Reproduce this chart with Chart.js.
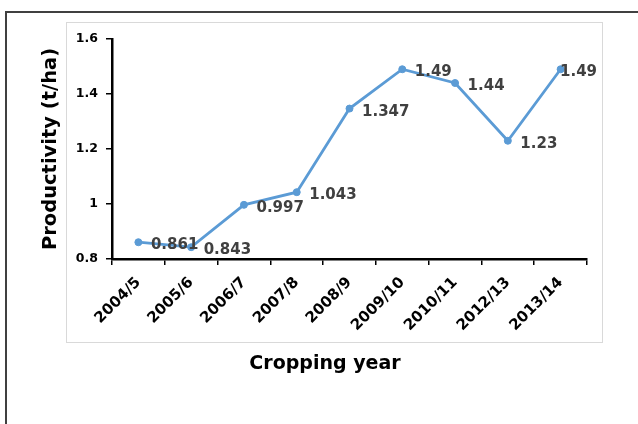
<!DOCTYPE html>
<html>
<head>
<meta charset="utf-8">
<script src="https://cdn.jsdelivr.net/npm/chart.js@4/dist/chart.umd.min.js"></script>
<style>
  html, body { margin: 0; padding: 0; width: 638px; height: 424px; overflow: hidden; background: #fff; }
  #outer { position: absolute; left: 5px; top: 11px; width: 700px; height: 500px; border: 2px solid #404040; box-sizing: border-box; }
  #inner { position: absolute; left: 66px; top: 22px; width: 537px; height: 321px; border: 1px solid #d9d9d9; box-sizing: border-box; }
  #c { position: absolute; left: 0; top: 0; }
</style>
</head>
<body>
<div id="outer"></div>
<div id="inner"></div>
<canvas id="c" width="638" height="424"></canvas>
<script>
// ---- data ----
const categories = ['2004/5', '2005/6', '2006/7', '2007/8', '2008/9', '2009/10', '2010/11', '2012/13', '2013/14'];
const productivity = [0.861, 0.843, 0.997, 1.043, 1.347, 1.49, 1.44, 1.23, 1.49];
const yTickLabels = ['0.8', '1', '1.2', '1.4', '1.6'];
const yAxisTitle = 'Productivity (t/ha)';
const xAxisTitle = 'Cropping year';

const FONT = 'DejaVu Sans';

const valueLabels = {
  id: 'valueLabels',
  afterDatasetsDraw(chart) {
    const ctx = chart.ctx;
    const meta = chart.getDatasetMeta(0);
    const area = chart.chartArea;
    const size = 15;
    ctx.save();
    ctx.font = 'bold ' + size + 'px "' + FONT + '"';
    ctx.fillStyle = '#404040';
    ctx.textAlign = 'left';
    ctx.textBaseline = 'alphabetic';
    meta.data.forEach((pt, i) => {
      const text = String(productivity[i]);
      const w = ctx.measureText(text).width;
      let x = pt.x + 12.5;
      if (x + w > area.right + 10) x = area.right + 10 - w;
      const y = pt.y + 1.5 + size * 0.729 / 2;
      ctx.fillText(text, x, y);
    });
    ctx.restore();
  }
};

new Chart(document.getElementById('c'), {
  type: 'line',
  data: {
    labels: categories,
    datasets: [{
      data: productivity,
      borderColor: '#5b9bd5',
      backgroundColor: '#5b9bd5',
      borderWidth: 2.8,
      pointRadius: 3.5,
      pointBorderWidth: 1,
      pointBorderColor: '#5b9bd5',
      pointBackgroundColor: '#5b9bd5',
      tension: 0,
      fill: false
    }]
  },
  options: {
    responsive: false,
    animation: false,
    devicePixelRatio: 1,
    layout: { padding: { left: 63, right: 51, top: 39, bottom: 0 } },
    plugins: {
      legend: { display: false },
      tooltip: { enabled: false },
      title: {
        display: true,
        position: 'bottom',
        text: xAxisTitle,
        color: '#000',
        font: { family: FONT, weight: 'bold', size: 19, lineHeight: 1.2 },
        padding: { top: 0, bottom: 48.6 }
      }
    },
    scales: {
      x: {
        type: 'category',
        offset: true,
        grid: { offset: true, drawOnChartArea: false, drawTicks: true, tickLength: 6, color: '#000', lineWidth: 1.5 },
        border: { display: true, color: '#000', width: 2.5 },
        ticks: {
          color: '#000',
          font: { family: FONT, weight: 'bold', size: 15, lineHeight: 0.6 },
          minRotation: 45, maxRotation: 45, autoSkip: false, padding: 12
        },
        afterFit(scale) { scale.height = 424 - 259 - 71.4; }
      },
      y: {
        min: 0.8, max: 1.6,
        grid: { drawOnChartArea: false, drawTicks: true, tickLength: 6, color: '#000', lineWidth: 1.5 },
        border: { display: true, color: '#000', width: 2.5 },
        ticks: {
          stepSize: 0.2,
          color: '#000',
          padding: 8,
          font: { family: FONT, weight: 'bold', size: 12.5 },
          callback: (v, i) => yTickLabels[i]
        },
        title: {
          display: true,
          text: yAxisTitle,
          color: '#000',
          font: { family: FONT, weight: 'bold', size: 19.5, lineHeight: 1.2 },
          padding: { top: -23.7, bottom: 0 }
        },
        afterFit(scale) { scale.width = 49; }
      }
    }
  },
  plugins: [valueLabels]
});
</script>
</body>
</html>
